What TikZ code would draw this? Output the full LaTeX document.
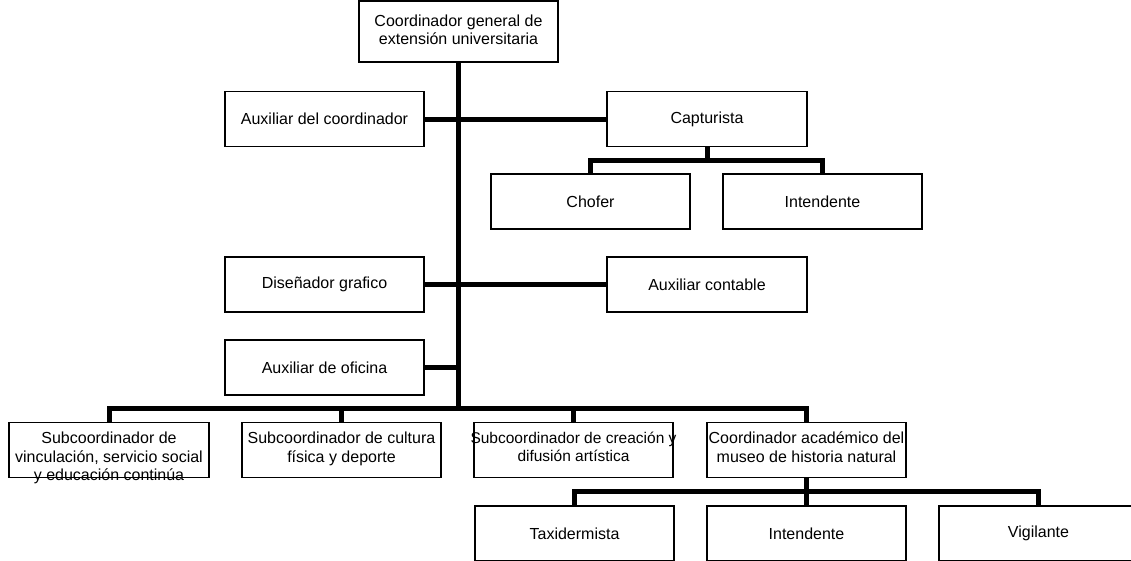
\documentclass[tikz,border=0pt]{standalone}
\usepackage{fontspec}
\setmainfont{Liberation Sans}
\newcommand\topbox[4]{\parbox[c][#1][t]{#2}{\vspace*{#3}\centering #4}}
\tikzset{
  orgbox/.style={draw=black, line width=1.3pt, inner sep=0pt,
    minimum width=199pt, minimum height=55pt, align=center,
    font=\fontsize{16}{18.4}\selectfont},
  conn/.style={line width=5pt, line join=miter, draw=black}
}
\begin{document}
\begin{tikzpicture}[x=1pt,y=-1pt]
\useasboundingbox[fill=white] (0,0) rectangle (1131,560);
% top
\node[orgbox] (top) at (458.5,31.5) {\topbox{61pt}{198pt}{14pt}{Coordinador general de\\extensión universitaria}};
% first level
\node[orgbox] (auxc) at (324.5,119) {Auxiliar del coordinador};
\node[orgbox, minimum width=200pt] (capt) at (707,119) {Capturista};
\node[orgbox] (chof) at (590.5,201.5) {Chofer};
\node[orgbox] (int1) at (822.5,201.5) {Intendente};
\node[orgbox] (dis) at (324.5,284.5) {Diseñador grafico};
\node[orgbox, minimum width=200pt] (cont) at (707,284.5) {Auxiliar contable};
\node[orgbox] (ofi) at (324.5,367.5) {Auxiliar de oficina};
% sub coordinators
\node[orgbox] (sub1) at (109,450) {\topbox{54pt}{200pt}{9pt}{Subcoordinador de\\vinculación, servicio social\\y educación continúa}};
\node[orgbox] (sub2) at (341.5,450) {\topbox{54pt}{199pt}{9pt}{Subcoordinador de cultura\\física y deporte}};
\node[orgbox] (sub3) at (573.5,450) {\topbox{54pt}{199pt}{9pt}{\fontsize{15.5}{18.4}\selectfont\makebox[0pt]{Subcoordinador de creación y}\\difusión artística}};
\node[orgbox] (acad) at (806.5,450) {\topbox{54pt}{199pt}{9pt}{Coordinador académico del\\museo de historia natural}};
% museum staff
\node[orgbox] (taxi) at (574.5,533.5) {Taxidermista};
\node[orgbox] (int2) at (806.5,533.5) {Intendente};
\node[orgbox] (vig) at (1038.5,533.5) {Vigilante};
% bus coordinates
\coordinate (bus) at (458.5,408);
\coordinate (cbus) at (707,160);
\coordinate (mbus) at (806.5,491);
% connectors
\draw[conn] (top.south) -- (bus);
\draw[conn] (auxc.east) -- (capt.west);
\draw[conn] (dis.east) -- (cont.west);
\draw[conn] (ofi.east) -- (ofi.east -| bus);
\draw[conn] (sub1.north) |- (bus) -| (acad.north);
\draw[conn] (sub2.north) -- (sub2.north |- bus);
\draw[conn] (sub3.north) -- (sub3.north |- bus);
\draw[conn] (capt.south) -- (cbus);
\draw[conn] (chof.north) |- (cbus) -| (int1.north);
\draw[conn] (acad.south) -- (mbus);
\draw[conn] (taxi.north) |- (mbus) -| (vig.north);
\draw[conn] (int2.north) -- (mbus);
\end{tikzpicture}
\end{document}
